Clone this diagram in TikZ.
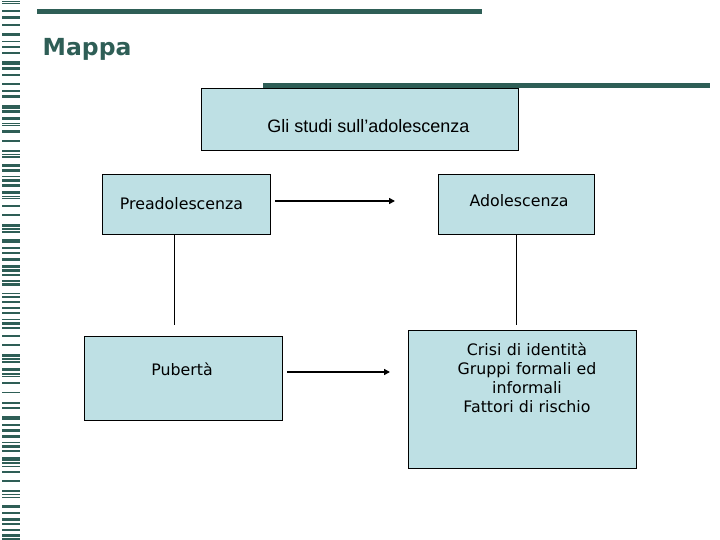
\documentclass[tikz,border=0pt]{standalone}
\usepackage{fontspec}
\setmainfont{DejaVu Sans}
\newfontfamily\arialfont{Liberation Sans}
\usetikzlibrary{arrows.meta}
\definecolor{darkteal}{RGB}{46,94,86}
\definecolor{boxfill}{RGB}{190,224,228}
\tikzset{
  mapbox/.style={draw=black, line width=0.8pt, fill=boxfill},
  link/.style={draw=black, line width=0.8pt},
  flow/.style={draw=black, line width=1.6pt, -{Triangle[length=6pt,width=6pt]}},
  boxtext/.style={font=\fontsize{15.8}{19}\selectfont, align=center, inner sep=0pt}
}
\begin{document}
\begin{tikzpicture}[x=1pt,y=-1pt]
\useasboundingbox (0,0) rectangle (720,540);
\fill[white] (0,0) rectangle (720,540);
% left barcode stripe
\foreach \a/\b in {1.5/2.5,3.5/4.5,10/12,16/19,24/26,33/36,41/42,46/48.5,52/54,61/65,67/70,74/76,83/85,90/92,95/98,105/109,110/113,117/120,123/124,125/126,130/133,
140/142,150/152,154/155,156/158,164/167,169/172,176/177,179/182,184/187,191/194,196/197,198/199,205/207,214/216,224/227,228/230,231/233,239/243,247/249,252/254,258/261,265/268,269/272,
274/276,280/282,283/286,293/294,296/298,301/303,307/309,312/314,319/320,322/325,327/329,335/337,344/346,354/357,358/360,361/363,368/371,373/375,376/377,382/384,392/393,402/404,
407/409,416/420,424/426,429/432,435/438,442/443,445/448,450/452,457/461,462/464,466/467,471/473,480/482,490/492,494/495,497/498,505/508,512/514,518/521,523/525,529/531,534/537,538/540}
  \fill[darkteal] (2,\a) rectangle (20,\b);
% rules
\fill[darkteal] (37,9.5) rectangle (482,14.5);
\fill[darkteal] (263,83) rectangle (710,88);
% title
\node[anchor=west, inner sep=0pt, text=darkteal, font=\bfseries\fontsize{23.5}{28}\selectfont] (title) at (42.5,49) {Mappa};
% boxes
\node[mapbox, minimum width=317pt, minimum height=62pt, inner sep=0pt] (studi) at (359.5,119) {};
\node[inner sep=0pt, font=\arialfont\fontsize{18}{21}\selectfont] (studit) at (368.5,126) {Gli studi sull’adolescenza};
\node[mapbox, minimum width=168pt, minimum height=60pt, inner sep=0pt] (pre) at (186,204) {};
\node[boxtext] (pret) at (181.5,204) {Preadolescenza};
\node[mapbox, minimum width=156pt, minimum height=60pt, inner sep=0pt] (ado) at (516,204) {};
\node[boxtext] (adot) at (519,201) {Adolescenza};
\node[mapbox, minimum width=198pt, minimum height=84pt, inner sep=0pt] (pub) at (183,378) {};
\node[boxtext] (pubt) at (182,369) {Pubertà};
\node[mapbox, minimum width=228pt, minimum height=138pt, inner sep=0pt] (crisi) at (522,399) {};
\node[boxtext, text width=220pt] (crisit) at (527,378) {Crisi di identità\\Gruppi formali ed\\informali\\Fattori di rischio};
% connectors
\coordinate (lend) at (174,325);
\coordinate (rend) at (516,325);
\draw[link] (pre.south -| lend) -- (lend);
\draw[link] (ado.south -| rend) -- (rend);
\coordinate (a1s) at (275,201);
\coordinate (a1e) at (395,201);
\coordinate (a2s) at (287,372);
\coordinate (a2e) at (390,372);
\draw[flow] (a1s) -- (a1e);
\draw[flow] (a2s) -- (a2e);
\end{tikzpicture}
\end{document}
